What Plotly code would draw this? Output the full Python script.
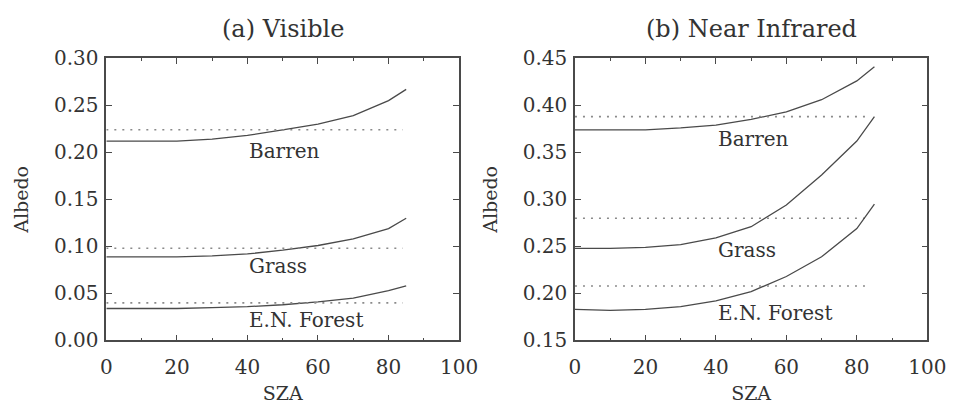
import plotly.graph_objects as go
from plotly.subplots import make_subplots

# Solar zenith angle sampling (degrees)
sza = [0, 10, 20, 30, 40, 50, 60, 70, 80, 85]

# (a) Visible albedo vs SZA
vis_barren = [0.212, 0.212, 0.212, 0.214, 0.218, 0.224, 0.230, 0.239, 0.255, 0.267]
vis_grass = [0.089, 0.089, 0.089, 0.090, 0.092, 0.096, 0.101, 0.108, 0.119, 0.130]
vis_forest = [0.034, 0.034, 0.034, 0.035, 0.036, 0.038, 0.041, 0.045, 0.053, 0.058]
vis_mean = {"Barren": 0.224, "Grass": 0.098, "E.N. Forest": 0.040}

# (b) Near-infrared albedo vs SZA
nir_barren = [0.374, 0.374, 0.374, 0.376, 0.379, 0.385, 0.393, 0.406, 0.426, 0.441]
nir_grass = [0.248, 0.248, 0.249, 0.252, 0.259, 0.271, 0.294, 0.326, 0.362, 0.388]
nir_forest = [0.183, 0.182, 0.183, 0.186, 0.192, 0.202, 0.218, 0.239, 0.269, 0.295]
nir_mean = {"Barren": 0.388, "Grass": 0.280, "E.N. Forest": 0.208}

# Surface-type label positions (y in data units); all start at SZA = 40
vis_labels = {"Barren": 0.201, "Grass": 0.079, "E.N. Forest": 0.022}
nir_labels = {"Barren": 0.364, "Grass": 0.246, "E.N. Forest": 0.179}
label_x = 40
mean_x = [0, 84]

panel_titles = ["(a) Visible", "(b) Near Infrared"]
x_ticks = [0, 20, 40, 60, 80, 100]
vis_ticks = [0.00, 0.05, 0.10, 0.15, 0.20, 0.25, 0.30]
nir_ticks = [0.15, 0.20, 0.25, 0.30, 0.35, 0.40, 0.45]

LINE = "#4a4a4a"
TEXT = "#333333"
FONT = "DejaVu Serif"

fig = make_subplots(rows=1, cols=2)

panels = [
    (1, [vis_barren, vis_grass, vis_forest], vis_mean, vis_labels),
    (2, [nir_barren, nir_grass, nir_forest], nir_mean, nir_labels),
]
names = ["Barren", "Grass", "E.N. Forest"]

for col, curves, means, labels in panels:
    for name, ys in zip(names, curves):
        fig.add_trace(go.Scatter(x=sza, y=ys, mode="lines", line=dict(color=LINE, width=1.3),
                                 showlegend=False), row=1, col=col)
        fig.add_trace(go.Scatter(x=mean_x, y=[means[name]] * 2, mode="lines",
                                 line=dict(color="#8a8a8a", width=1.6, dash="2px,6px"),
                                 showlegend=False), row=1, col=col)
        fig.add_annotation(x=label_x, y=labels[name], text=name, showarrow=False,
                           xanchor="left", yanchor="middle",
                           font=dict(family=FONT, size=20, color=TEXT),
                           row=1, col=col)

axis_common = dict(showline=True, linecolor=LINE, linewidth=1.5, mirror="allticks",
                   ticks="inside", ticklen=6, tickwidth=1.2, tickcolor=LINE,
                   showgrid=False, zeroline=False,
                   tickfont=dict(family=FONT, size=20, color=TEXT))

fig.update_xaxes(**axis_common, range=[0, 100], tickvals=x_ticks, ticklabelstandoff=8,
                 minor=dict(ticks="inside", dtick=10, ticklen=3, tickcolor=LINE),
                 title=dict(text="SZA", font=dict(family=FONT, size=19, color=TEXT), standoff=8))
fig.update_yaxes(**axis_common, ticklabelstandoff=2,
                 title=dict(text="Albedo", font=dict(family=FONT, size=19, color=TEXT), standoff=20))
fig.update_yaxes(range=[0, 0.30], tickvals=vis_ticks, tickformat=".2f", row=1, col=1)
fig.update_yaxes(range=[0.15, 0.45], tickvals=nir_ticks, tickformat=".2f", row=1, col=2)

fig.update_layout(
    width=967, height=410,
    margin=dict(l=0, r=0, t=0, b=0),
    paper_bgcolor="white", plot_bgcolor="white",
    xaxis=dict(domain=[0.1065, 0.481]),
    xaxis2=dict(domain=[0.604, 0.978]),
    yaxis=dict(domain=[0.149, 0.880]),
    yaxis2=dict(domain=[0.149, 0.880]),
)

for i, t in enumerate(panel_titles):
    xd = fig.layout["xaxis" if i == 0 else "xaxis2"].domain
    fig.add_annotation(x=(xd[0] + xd[1]) / 2, y=0.955, xref="paper", yref="paper",
                       text=t, showarrow=False, xanchor="center", yanchor="middle",
                       font=dict(family=FONT, size=24, color=TEXT))

fig.write_html("out.html")
